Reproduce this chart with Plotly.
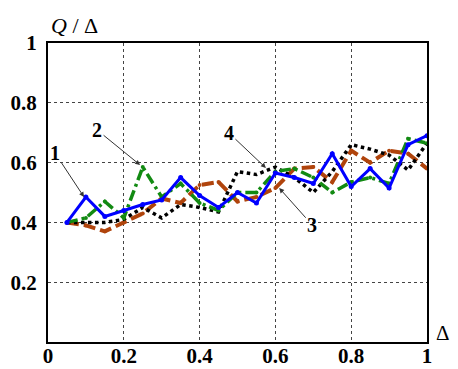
import plotly.graph_objects as go

x_vals = [0.05, 0.10, 0.15, 0.20, 0.25, 0.30, 0.35, 0.40, 0.45, 0.50,
          0.55, 0.60, 0.65, 0.70, 0.75, 0.80, 0.85, 0.90, 0.95, 1.00]
series1 = [0.40, 0.485, 0.42, 0.44, 0.46, 0.475, 0.55, 0.49, 0.45, 0.50,
           0.465, 0.565, 0.55, 0.53, 0.63, 0.52, 0.58, 0.515, 0.66, 0.69]
series2 = [0.40, 0.415, 0.47, 0.415, 0.585, 0.485, 0.53, 0.465, 0.44, 0.50,
           0.50, 0.57, 0.58, 0.55, 0.50, 0.535, 0.55, 0.53, 0.68, 0.665]
series3 = [0.40, 0.39, 0.37, 0.40, 0.43, 0.48, 0.465, 0.525, 0.535, 0.47,
           0.485, 0.515, 0.58, 0.585, 0.535, 0.64, 0.60, 0.64, 0.63, 0.58]
series4 = [0.40, 0.40, 0.40, 0.41, 0.45, 0.415, 0.46, 0.45, 0.435, 0.57,
           0.56, 0.585, 0.55, 0.50, 0.57, 0.66, 0.645, 0.625, 0.575, 0.665]

x_ticks = [0, 0.2, 0.4, 0.6, 0.8, 1]
x_tick_labels = ["0", "0.2", "0.4", "0.6", "0.8", "1"]
y_ticks = [0.2, 0.4, 0.6, 0.8, 1]
y_tick_labels = ["0.2", "0.4", "0.6", "0.8", "1"]

# label, tip x, tip y, offset x, offset y
labels = [("1", 0.095, 0.485, -29, -44),
          ("2", 0.243, 0.592, -43, -35),
          ("4", 0.575, 0.582, -37, -35),
          ("3", 0.610, 0.515, 33, 37)]

serif = "Liberation Serif"
fig = go.Figure()
fig.add_trace(go.Scatter(x=x_vals, y=series3, mode="lines+markers",
                         line=dict(color="#b0440c", width=4, dash="12px,5px"),
                         marker=dict(size=4, color="#b0440c")))
fig.add_trace(go.Scatter(x=x_vals, y=series4, mode="lines",
                         line=dict(color="black", width=3.5, dash="dot")))
fig.add_trace(go.Scatter(x=x_vals, y=series2, mode="lines+markers",
                         line=dict(color="#128a12", width=3.5, dash="11px,4px,3px,4px"),
                         marker=dict(size=4, color="#128a12")))
fig.add_trace(go.Scatter(x=x_vals, y=series1, mode="lines+markers",
                         line=dict(color="#0000ff", width=3),
                         marker=dict(size=5, color="#0000ff")))

for txt, tx, ty, ax, ay in labels:
    fig.add_annotation(x=tx, y=ty, xref="x", yref="y", text="<b>" + txt + "</b>",
                       showarrow=True, ax=ax, ay=ay, arrowhead=2, arrowsize=1,
                       arrowwidth=1, arrowcolor="#333",
                       font=dict(family=serif, size=20, color="black"))

fig.add_annotation(x=0.071, y=1.06, xref="paper", yref="paper",
                   xanchor="center", yanchor="middle",
                   text="<i>Q</i> / Δ", showarrow=False,
                   font=dict(family=serif, size=22, color="black"))
fig.add_annotation(x=1.042, y=0.03, xref="paper", yref="paper",
                   xanchor="center", yanchor="middle",
                   text="Δ", showarrow=False,
                   font=dict(family=serif, size=21, color="black"))

axis_common = dict(showline=True, mirror=True, linecolor="black", linewidth=2,
                   showgrid=True, gridcolor="#444", gridwidth=1, griddash="dot",
                   zeroline=False, automargin=False,
                   tickfont=dict(family=serif, size=21, color="black"))
fig.update_xaxes(range=[0, 1], tickvals=x_ticks, ticks="", ticklabelstandoff=-6,
                 ticktext=["<b>" + t + "</b>" for t in x_tick_labels], **axis_common)
fig.update_yaxes(range=[0, 1], tickvals=y_ticks, ticks="outside", ticklen=5,
                 tickcolor="rgba(0,0,0,0)",
                 ticktext=["<b>" + t + "</b>" for t in y_tick_labels], **axis_common)

# page body has an 8px margin, so the figure is 8px smaller and shifted
fig.update_layout(width=450, height=361, showlegend=False,
                  margin=dict(l=40, r=31, t=35, b=27, autoexpand=False),
                  plot_bgcolor="white", paper_bgcolor="white")
fig.write_html("out.html")
